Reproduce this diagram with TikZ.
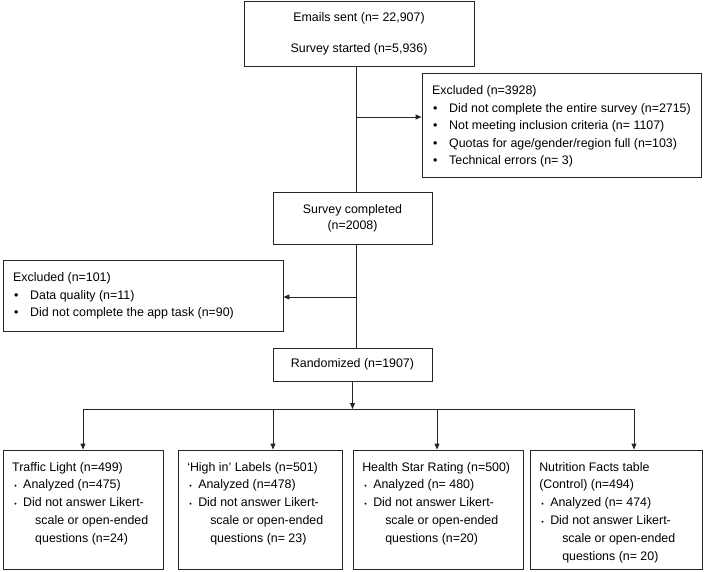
\documentclass[tikz,border=0pt]{standalone}
\usepackage{fontspec}
\setmainfont{Liberation Sans}
\usetikzlibrary{arrows.meta}
\newcommand{\bbl}{\makebox[17pt][l]{\hspace{0.8pt}\textbullet}}
\newcommand{\sbl}{\makebox[11pt][l]{\hspace{2pt}{\fontsize{7}{7}\selectfont\textbullet}}}
\newcommand{\cnt}{\hspace*{23pt}}
\begin{document}
\begin{tikzpicture}[x=1pt,y=-1pt,
  every node/.style={font=\fontsize{12.4}{18}\selectfont},
  box/.style={draw=black!85, line width=0.9pt, inner sep=0pt},
  txt/.style={anchor=north west, inner sep=0pt, align=left},
  conn/.style={draw=black!85, line width=0.9pt},
  arr/.style={conn, -{Triangle[length=6pt,width=5pt]}}]
\useasboundingbox (0,0) rectangle (709,571);

% main column
\node[box, minimum width=230, minimum height=65, align=center] (top) at (359,33.5)
  {Emails sent (n= 22,907)\\[13pt]Survey started (n=5,936)};
\node[box, minimum width=159, minimum height=52, align=center,
  font=\fontsize{12.4}{16}\selectfont] (sc) at (352.5,218) {Survey completed\\(n=2008)};
\node[box, minimum width=159, minimum height=33] (rand) at (352.5,364.5) {Randomized (n=1907)};

% exclusion boxes
\node[box, minimum width=279, minimum height=104] (ex1) at (561.5,125) {};
\node[txt, font=\fontsize{12.4}{17.6}\selectfont] (ex1t) at (432,85.4)
  {Excluded (n=3928)\\
   \bbl Did not complete the entire survey (n=2715)\\
   \bbl Not meeting inclusion criteria (n= 1107)\\
   \bbl Quotas for age/gender/region full (n=103)\\
   \bbl Technical errors (n= 3)};

\node[box, minimum width=280, minimum height=71] (ex2) at (143,295.5) {};
\node[txt, font=\fontsize{12.4}{17.5}\selectfont] (ex2t) at (13,272.4)
  {Excluded (n=101)\\
   \bbl Data quality (n=11)\\
   \bbl Did not complete the app task (n=90)};

% arms
\node[box, minimum width=160, minimum height=119] (b1) at (83,509.5) {};
\node[box, minimum width=164, minimum height=119] (b2) at (260,509.5) {};
\node[box, minimum width=170, minimum height=119] (b3) at (438,509.5) {};
\node[box, minimum width=172, minimum height=119] (b4) at (616,509.5) {};

\node[txt, font=\fontsize{12.4}{17.8}\selectfont] (b1t) at ([shift={(9.5,12.4)}]b1.north west)
  {Traffic Light (n=499)\\
   \sbl Analyzed (n=475)\\
   \sbl Did not answer Likert-\\
   \cnt scale or open-ended\\
   \cnt questions (n=24)};
\node[txt, font=\fontsize{12.4}{17.8}\selectfont] (b2t) at ([shift={(9.5,12.4)}]b2.north west)
  {‘High in’ Labels (n=501)\\
   \sbl Analyzed (n=478)\\
   \sbl Did not answer Likert-\\
   \cnt scale or open-ended\\
   \cnt questions (n= 23)};
\node[txt, font=\fontsize{12.4}{17.8}\selectfont] (b3t) at ([shift={(9.5,12.4)}]b3.north west)
  {Health Star Rating (n=500)\\
   \sbl Analyzed (n= 480)\\
   \sbl Did not answer Likert-\\
   \cnt scale or open-ended\\
   \cnt questions (n=20)};
\node[txt, font=\fontsize{12.4}{17.8}\selectfont] (b4t) at ([shift={(9.5,12.4)}]b4.north west)
  {Nutrition Facts table\\
   (Control) (n=494)\\
   \sbl Analyzed (n= 474)\\
   \sbl Did not answer Likert-\\
   \cnt scale or open-ended\\
   \cnt questions (n= 20)};

% connectors
\coordinate (sp) at (356,0);
\coordinate (a1) at (356,117);
\coordinate (a2) at (356,297);
\draw[conn] (top.south -| sp) -- (sc.north -| sp);
\draw[arr] (a1) -- (a1 -| ex1.west);
\draw[conn] (sc.south -| sp) -- (rand.north -| sp);
\draw[arr] (a2) -- (a2 -| ex2.east);

\coordinate (d1) at (83,409);
\coordinate (d2) at (273,409);
\coordinate (d3) at (437,409);
\coordinate (d4) at (634,409);
\draw[arr] (rand.south) -- (rand.south |- d1);
\draw[conn] (d1) -- (d4);
\draw[arr] (d1) -- (d1 |- b1.north);
\draw[arr] (d2) -- (d2 |- b2.north);
\draw[arr] (d3) -- (d3 |- b3.north);
\draw[arr] (d4) -- (d4 |- b4.north);
\end{tikzpicture}
\end{document}
